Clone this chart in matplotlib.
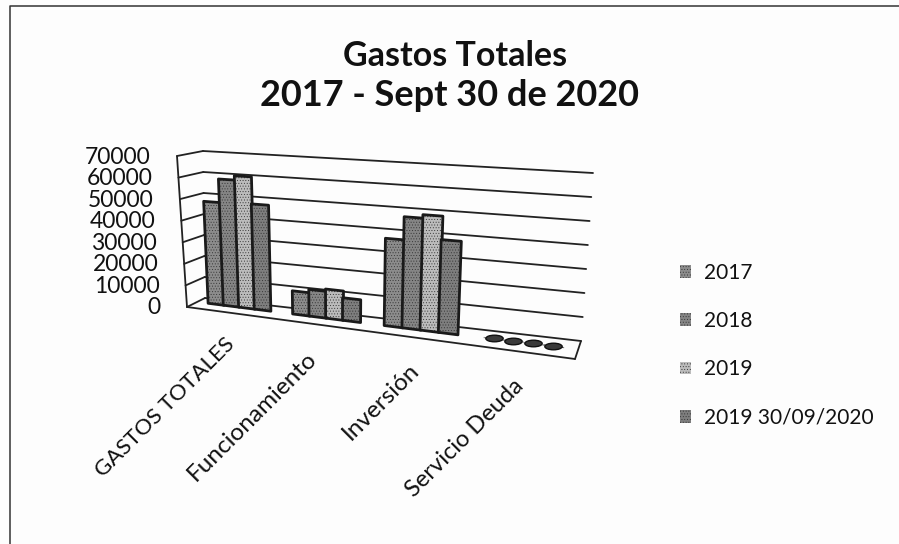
import numpy as np
import matplotlib
matplotlib.use("Agg")
import matplotlib.pyplot as plt
from matplotlib.path import Path
from matplotlib.transforms import Transform, Affine2D

categories = ["GASTOS TOTALES", "Funcionamiento", "Inversión", "Servicio Deuda"]
series_names = ["2017", "2018", "2019", "2019 30/09/2020"]
v2017 = [48000, 10500, 38000, 500]
v2018 = [59000, 12000, 48000, 500]
v2019 = [61000, 13000, 49500, 500]
v2020 = [48500, 10000, 39500, 500]
series = [v2017, v2018, v2019, v2020]
colors = ["#8c8c8c", "#858585", "#bcbcbc", "#7e7e7e"]
yticks = [0, 10000, 20000, 30000, 40000, 50000, 60000, 70000]
VMAX = 70000


class Quad(Transform):
    """Maps a data rectangle onto a four-cornered plane of the pseudo-3D chart."""
    input_dims = output_dims = 2
    is_separable = False
    has_inverse = False

    def __init__(self, xmax, ymax, p00, p01, p10, p11, warp=1.0):
        super().__init__()
        self.xmax, self.ymax, self.warp = xmax, ymax, warp
        self.p = [np.array(c, float) for c in (p00, p01, p10, p11)]

    def transform_non_affine(self, pts):
        pts = np.asarray(pts, float)
        s = pts[:, 0] / self.xmax
        s = s / (s + self.warp * (1 - s))
        t = pts[:, 1] / self.ymax
        s, t = s[:, None], t[:, None]
        return ((1 - s) * (1 - t) * self.p[0] + (1 - s) * t * self.p[1]
                + s * (1 - t) * self.p[2] + s * t * self.p[3])


plt.rcParams["font.family"] = ["Lato", "DejaVu Sans"]
plt.rcParams["hatch.linewidth"] = 0.35
fig = plt.figure(figsize=(8.99, 5.44), dpi=100, facecolor="#fdfdfd")
ax = fig.add_axes([0, 0, 1, 1])
ax.set_xlim(0, 899)
ax.set_ylim(544, 0)
ax.axis("off")

back = Quad(4, VMAX, (205, 298), (203, 151), (581, 341), (593, 173)) + ax.transData
bars = Quad(4, VMAX, (198, 302), (191, 154), (578, 350), (590, 176), warp=1.18) + ax.transData
side_q = Quad(1, VMAX, (205, 298), (203, 151), (187, 307), (177, 156))
side = side_q + ax.transData
floor = Quad(4, 1, (205, 298), (187, 307), (581, 341), (575, 359)) + ax.transData

line_kw = dict(color="#222222", lw=1.3, solid_capstyle="round")
for v in yticks:
    ax.plot([0, 4], [v, v], transform=back, **line_kw)
    ax.plot([0, 1], [v, v], transform=side, **line_kw)
ax.plot([1, 1], [0, VMAX], transform=side, **line_kw)
ax.plot([0, 4], [1, 1], transform=floor, **line_kw)
ax.plot([4, 4], [0, 1], transform=floor, **line_kw)

disc = Path.unit_circle().transformed(Affine2D().scale(1, 0.38))
step, width = 0.185, 0.195
x0 = np.arange(len(categories)) + 0.5
handles = []
for i, (vals, col) in enumerate(zip(series, colors)):
    xs = x0 + (i - 1.5) * step
    c = ax.bar(xs, vals, width=width, color=col, linewidth=0, transform=bars,
               zorder=3 + i, label=series_names[i], hatch="......")
    for b in c:
        b.set_edgecolor("#333333")
    ax.bar(xs[:3], vals[:3], width=width, fill=False, edgecolor="#1a1a1a", linewidth=2.0,
           joinstyle="round", transform=bars, zorder=3 + i)
    ax.plot(xs[3:], vals[3:], ls="", marker=disc, markersize=12.5, color="#3a3a3a",
            markeredgecolor="#111111", markeredgewidth=1, transform=bars, zorder=3 + i)
    handles.append(c)

# value-axis labels follow the front edge of the side wall
for v in yticks:
    px, py = side_q.transform_non_affine(np.array([[1.0, v]]))[0]
    ax.text(px - 26, py + 1, f"{v}", ha="right", va="center", fontsize=16.5, color="#111111")

anchors = [(224, 334), (306, 348), (408, 359), (513, 375)]
label_sizes = [16, 17.5, 17.5, 17]
for lab, (px, py), fs in zip(categories, anchors, label_sizes):
    ax.text(px, py, lab, rotation=45, rotation_mode="anchor", ha="right", va="top",
            fontsize=fs, color="#111111")

ax.text(455, 56, "Gastos Totales", ha="center", va="center", fontsize=24.5,
        fontweight="bold", color="#111111")
ax.text(449, 96, "2017 - Sept 30 de 2020", ha="center", va="center", fontsize=26,
        fontweight="bold", color="#111111")

ax.legend(handles=handles, loc="upper left", bbox_to_anchor=(661 / 899, 1 - 244 / 544),
          frameon=False, fontsize=15, labelspacing=1.36, handlelength=0.55,
          handleheight=0.55, handletextpad=0.6, labelcolor="#111111")

ax.plot([10, 10, 899], [544, 6, 6], color="#333333", lw=1.1)

fig.savefig("out.png", dpi=100, facecolor=fig.get_facecolor())
